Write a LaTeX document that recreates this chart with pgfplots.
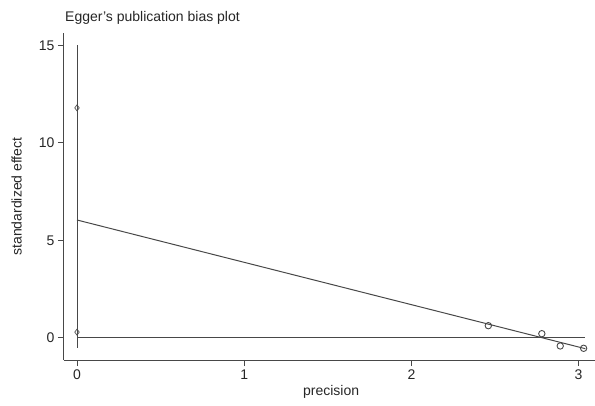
\documentclass[border=0pt]{standalone}
\usepackage{fontspec}
\setmainfont{Liberation Sans}
\usepackage{pgfplots}
\pgfplotsset{compat=1.18}
\definecolor{lc}{RGB}{72,72,72}
\begin{document}
\begin{tikzpicture}
\begin{axis}[name=ax, scale only axis, width=531pt, height=327pt,
  xmin=-0.0778, xmax=3.098, ymin=-1.13, ymax=15.64,
  axis x line*=bottom, axis y line*=left,
  axis line style={lc, line width=1pt, -},
  xtick={0,1,2,3}, ytick={0,5,10,15},
  tick align=outside, major tick length=6pt,
  tick style={lc, line width=1pt},
  /pgf/number format/assume math mode=true,
  ticklabel style={font=\fontsize{14}{14}\selectfont, text=black!85},
  xlabel={precision}, ylabel={standardized effect},
  label style={font=\fontsize{14}{14}\selectfont, text=black!85},
  xlabel style={at={(axis description cs:0.503,-0.098)}, anchor=center},
  ylabel style={at={(axis description cs:-0.089,0.5)}, anchor=center},
  clip=false]
\addplot[lc, line width=1pt] coordinates {(0,-0.5) (0,15.05)};
\addplot[lc, only marks, mark=diamond, mark size=3pt, mark options={line width=0.7pt, fill=white}] coordinates {(0,11.8) (0,0.3)};
\addplot[lc, line width=1pt] coordinates {(0,0) (3.04,0)};
\addplot[lc, line width=1pt] coordinates {(0,6.05) (3.04,-0.55)};
\addplot[lc, only marks, mark=o, mark size=3.2pt, mark options={line width=0.9pt}] coordinates {(2.46,0.63) (2.78,0.22) (2.89,-0.41) (3.03,-0.53)};
\end{axis}
\node[anchor=base west, font=\fontsize{14}{14}\selectfont, text=black!85, inner sep=0pt] at ([shift={(1pt,11pt)}]ax.north west) {Egger's publication bias plot};
\pgfresetboundingbox
\path ([shift={(-64pt,-45pt)}]ax.south west) rectangle ([shift={(531pt,360pt)}]ax.south west);
\end{tikzpicture}
\end{document}
